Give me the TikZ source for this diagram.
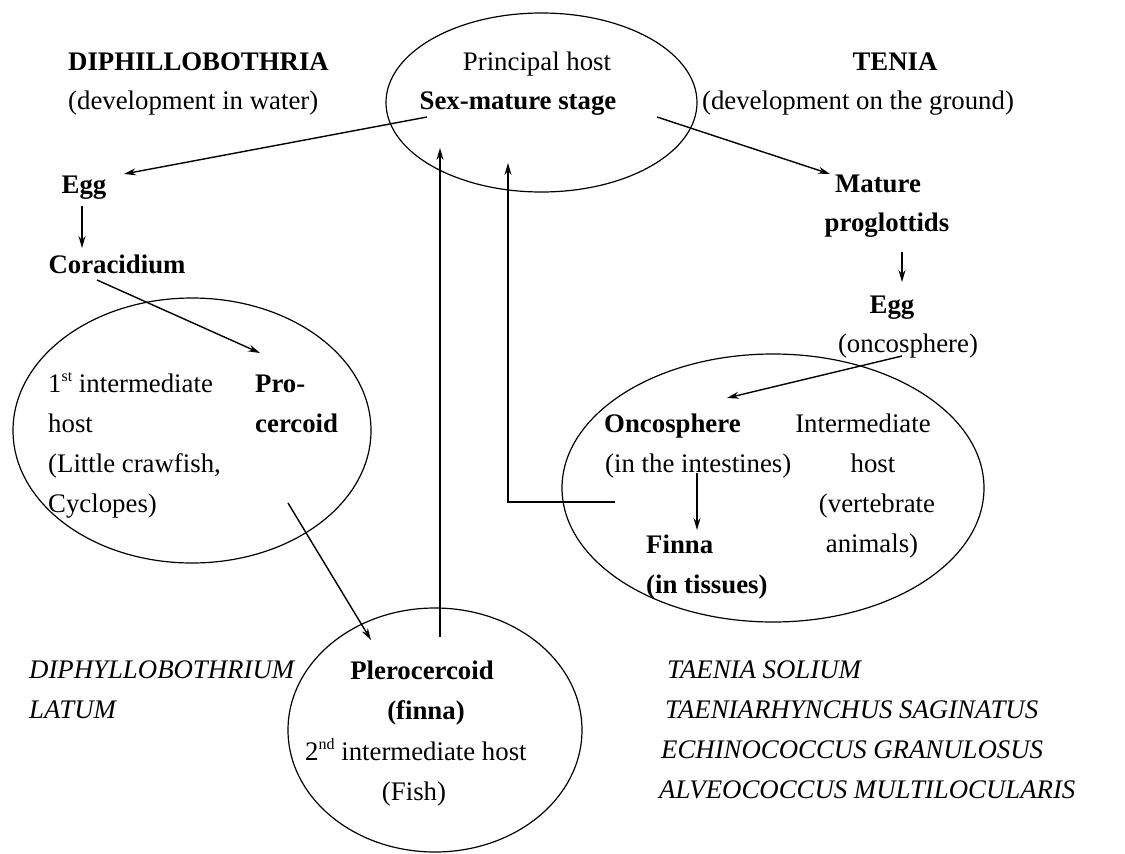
\documentclass[tikz,border=0pt]{standalone}
\usepackage{fontspec}
\setmainfont{Liberation Serif}
\usetikzlibrary{arrows.meta,shapes.geometric}
\newcommand{\supx}[1]{\raisebox{11pt}{\fontsize{16}{16}\selectfont #1}}
\begin{document}
\begin{tikzpicture}[x=1pt,y=-1pt,
  txt/.style={inner sep=0pt, font=\fontsize{26.8}{32}\selectfont},
  bt/.style={inner sep=0pt, font=\fontsize{26.8}{32}\selectfont\bfseries},
  it/.style={inner sep=0pt, font=\fontsize{26.8}{32}\selectfont\itshape},
  arr/.style={line width=1.4pt, -{Stealth[length=12pt,width=7pt,inset=4pt]}},
  hostell/.style={draw, ellipse, line width=1.2pt, inner sep=0pt}]
\useasboundingbox (0,0) rectangle (1125,854);

% ellipses
\node[hostell, minimum width=311pt, minimum height=179pt] (principal) at (541.5,102.5) {};
\node[hostell, minimum width=358pt, minimum height=265pt] (first) at (192,430.5) {};
\node[hostell, minimum width=422pt, minimum height=268pt] (inter) at (773,488) {};
\node[hostell, minimum width=294pt, minimum height=244pt] (second) at (435,730) {};

% headings
\node[bt, anchor=base west] (dip) at (68,70.7) {DIPHILLOBOTHRIA};
\node[txt, anchor=base west] (dipsub) at (68,109) {(development in water)};
\node[txt, anchor=base] (princ) at (537,70) {Principal host};
\node[bt, anchor=base] (sex) at (518,109) {Sex-mature stage};
\node[bt, anchor=base] (tenia) at (895,70) {TENIA};
\node[txt, anchor=base] (teniasub) at (858,109) {(development on the ground)};

% left chain
\node[bt, anchor=base] (eggA) at (84,193) {Egg};
\node[bt, anchor=base] (cora) at (117,273) {Coracidium};
\node[txt, anchor=base west] (fh1) at (48,392) {1\supx{st} intermediate};
\node[txt, anchor=base west] (fh2) at (48,432) {host};
\node[txt, anchor=base west] (fh3) at (48,472) {(Little crawfish,};
\node[txt, anchor=base west] (fh4) at (48,512) {Cyclopes)};
\node[bt, anchor=base west] (pro1) at (255,392) {Pro-};
\node[bt, anchor=base west] (pro2) at (255,432) {cercoid};
\node[bt, anchor=base] (pler1) at (422,679) {Plerocercoid};
\node[bt, anchor=base] (pler2) at (426,719) {(finna)};
\node[txt, anchor=base west] (sh1) at (305,760) {2\supx{nd} intermediate host};
\node[txt, anchor=base] (sh2) at (414,800) {(Fish)};
\node[it, anchor=base west] (dl1) at (29,678) {DIPHYLLOBOTHRIUM};
\node[it, anchor=base west] (dl2) at (29,718) {LATUM};

% right chain
\node[bt, anchor=base] (mat1) at (878,192) {Mature};
\node[bt, anchor=base] (mat2) at (887,231) {proglottids};
\node[bt, anchor=base] (eggB) at (892,313) {Egg};
\node[txt, anchor=base] (eggBsub) at (908,352) {(oncosphere)};
\node[bt, anchor=base west] (onc1) at (604,432) {Oncosphere};
\node[txt, anchor=base west] (onc2) at (605,472) {(in the intestines)};
\node[txt, anchor=base] (ih1) at (863,432) {Intermediate};
\node[txt, anchor=base] (ih2) at (873,472) {host};
\node[txt, anchor=base] (ih3) at (877,512) {(vertebrate};
\node[txt, anchor=base] (ih4) at (872,552) {animals)};
\node[bt, anchor=base west] (fin1) at (646,553) {Finna};
\node[bt, anchor=base west] (fin2) at (646,593) {(in tissues)};
\node[it, anchor=base west] (ts1) at (667,678) {TAENIA SOLIUM};
\node[it, anchor=base west] (ts2) at (665,718) {TAENIARHYNCHUS SAGINATUS};
\node[it, anchor=base west] (ts3) at (661,758) {ECHINOCOCCUS GRANULOSUS};
\node[it, anchor=base west] (ts4) at (659,798) {ALVEOCOCCUS MULTILOCULARIS};

% connector end points
\coordinate (a1s) at (427,117);  \coordinate (a1e) at (124,174);
\coordinate (a2s) at (82,206);   \coordinate (a2e) at (82,248);
\coordinate (a3s) at (97,280);   \coordinate (a3e) at (260,353);
\coordinate (a4s) at (288,503);  \coordinate (a4e) at (371,640);
\coordinate (a5s) at (440,637);  \coordinate (a5e) at (440,148);
\coordinate (a6s) at (615,502);  \coordinate (a6e) at (508,163);
\coordinate (a7s) at (657,117);  \coordinate (a7e) at (830,174);
\coordinate (a8s) at (902,252);  \coordinate (a8e) at (902,282);
\coordinate (a9s) at (902,356);  \coordinate (a9e) at (727,398);
\coordinate (a10s) at (697,473); \coordinate (a10e) at (697,530);

\draw[arr] (a1s) -- (a1e);
\draw[arr] (a2s) -- (a2e);
\draw[arr] (a3s) -- (a3e);
\draw[arr] (a4s) -- (a4e);
\draw[arr] (a5s) -- (a5e);
\draw[arr] (a6s) -| (a6e);
\draw[arr] (a7s) -- (a7e);
\draw[arr] (a8s) -- (a8e);
\draw[arr] (a9s) -- (a9e);
\draw[arr] (a10s) -- (a10e);
\end{tikzpicture}
\end{document}
